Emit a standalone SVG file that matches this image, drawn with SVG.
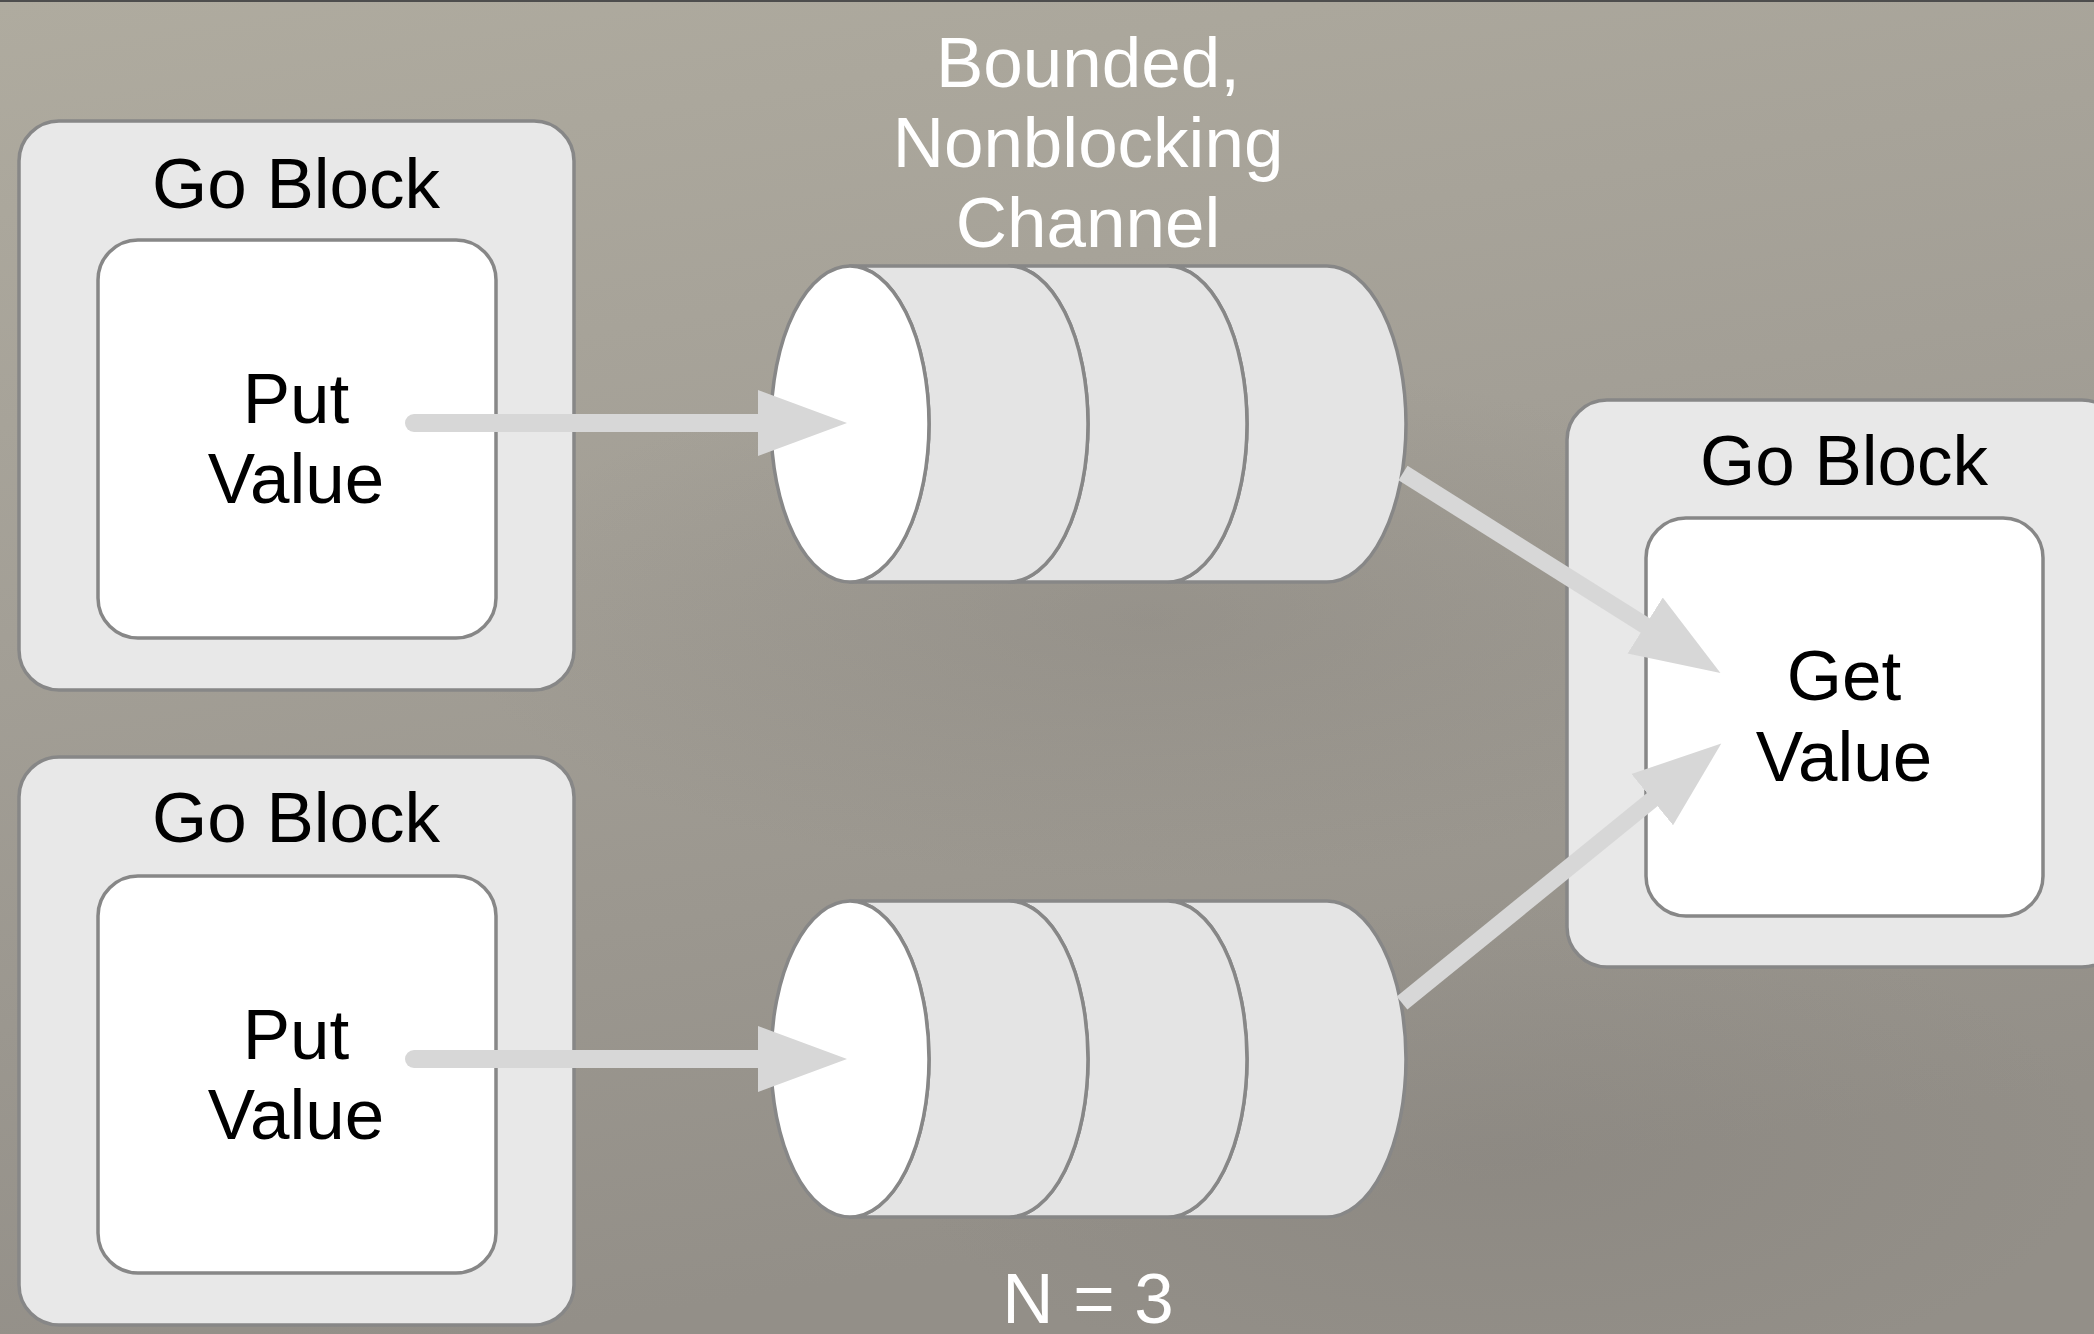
<svg xmlns="http://www.w3.org/2000/svg" width="2094" height="1334" viewBox="0 0 2094 1334">
  <defs>
    <linearGradient id="bg" x1="0" y1="0" x2="0.25" y2="1">
      <stop offset="0" stop-color="#afab9f"/>
      <stop offset="0.45" stop-color="#a39f96"/>
      <stop offset="1" stop-color="#938f88"/>
    </linearGradient>
    <radialGradient id="dark" cx="0.5" cy="0.5" r="0.5">
      <stop offset="0" stop-color="#7f7b76" stop-opacity="0.3"/>
      <stop offset="1" stop-color="#7f7b76" stop-opacity="0"/>
    </radialGradient>
    <marker id="ah" markerUnits="userSpaceOnUse" markerWidth="92" markerHeight="70" viewBox="0 -35 92 70" refX="1" refY="0" orient="auto">
      <path d="M0,-33 L89,0 L0,33 Z" fill="#d7d7d7"/>
    </marker>
    <style>
      .outer { fill: #e8e8e8; stroke: #878787; stroke-width: 3.5; }
      .inner { fill: #ffffff; stroke: #878787; stroke-width: 3.5; }
      .front { fill: #ffffff; stroke: #878787; stroke-width: 3.5; }
      .seg { fill: #e4e4e4; stroke: #878787; stroke-width: 3.5; stroke-linejoin: round; }
      .lbl { font-family: "Liberation Sans", Arial, Helvetica, sans-serif; font-size: 71px; text-anchor: middle; fill: #000000; }
      .wlbl { font-family: "Liberation Sans", Arial, Helvetica, sans-serif; font-size: 71px; text-anchor: middle; fill: #ffffff; }
      .put { fill: none; stroke: #d7d7d7; stroke-width: 18; stroke-linecap: round; }
      .out { fill: none; stroke: #d7d7d7; stroke-width: 17; stroke-linecap: butt; }
    </style>
  </defs>

  <rect x="0" y="0" width="2094" height="1334" fill="url(#bg)"/>
  <ellipse cx="1150" cy="620" rx="700" ry="260" fill="url(#dark)"/>
  <ellipse cx="1500" cy="1150" rx="600" ry="250" fill="url(#dark)"/>
  <rect x="0" y="0" width="2094" height="2" fill="#4d4d4d"/>

  <g id="goblock-put-1">
    <rect class="outer" x="19" y="121" width="555" height="569" rx="40" ry="40"/>
    <text class="lbl" x="296" y="208">Go Block</text>
    <rect class="inner" x="98" y="240" width="398" height="398" rx="40" ry="40"/>
    <text class="lbl" x="296" y="423">Put</text>
    <text class="lbl" x="296" y="503">Value</text>
  </g>

  <g id="goblock-put-2">
    <rect class="outer" x="19" y="757" width="555" height="568" rx="40" ry="40"/>
    <text class="lbl" x="296" y="842">Go Block</text>
    <rect class="inner" x="98" y="876" width="398" height="397" rx="40" ry="40"/>
    <text class="lbl" x="296" y="1059">Put</text>
    <text class="lbl" x="296" y="1139">Value</text>
  </g>

  <g id="goblock-get">
    <rect class="outer" x="1567" y="400" width="555" height="567" rx="40" ry="40"/>
    <text class="lbl" x="1844" y="485">Go Block</text>
    <rect class="inner" x="1646" y="518" width="397" height="398" rx="40" ry="40"/>
    <text class="lbl" x="1844" y="700">Get</text>
    <text class="lbl" x="1844" y="781">Value</text>
  </g>

  <g id="channel-1">
    <text class="wlbl" x="1088" y="87">Bounded,</text>
    <text class="wlbl" x="1088" y="167">Nonblocking</text>
    <text class="wlbl" x="1088" y="247">Channel</text>
    <path class="seg" d="M1168,266 L1327,266 A79,158 0 0 1 1327,582 L1168,582 A79,158 0 0 0 1168,266 Z"/>
    <path class="seg" d="M1009,266 L1168,266 A79,158 0 0 1 1168,582 L1009,582 A79,158 0 0 0 1009,266 Z"/>
    <path class="seg" d="M850,266 L1009,266 A79,158 0 0 1 1009,582 L850,582 A79,158 0 0 0 850,266 Z"/>
    <ellipse class="front" cx="850" cy="424" rx="79" ry="158"/>
  </g>

  <g id="channel-2">
    <path class="seg" d="M1168,901 L1327,901 A79,158 0 0 1 1327,1217 L1168,1217 A79,158 0 0 0 1168,901 Z"/>
    <path class="seg" d="M1009,901 L1168,901 A79,158 0 0 1 1168,1217 L1009,1217 A79,158 0 0 0 1009,901 Z"/>
    <path class="seg" d="M850,901 L1009,901 A79,158 0 0 1 1009,1217 L850,1217 A79,158 0 0 0 850,901 Z"/>
    <ellipse class="front" cx="850" cy="1059" rx="79" ry="158"/>
    <text class="wlbl" x="1088" y="1323">N = 3</text>
  </g>

  <g id="connectors">
    <line class="put" x1="414" y1="423" x2="759" y2="423" marker-end="url(#ah)"/>
    <line class="put" x1="414" y1="1059" x2="759" y2="1059" marker-end="url(#ah)"/>
    <line class="out" x1="1403" y1="473" x2="1646" y2="626" marker-end="url(#ah)"/>
    <line class="out" x1="1402" y1="1003" x2="1653" y2="799" marker-end="url(#ah)"/>
  </g>
</svg>
